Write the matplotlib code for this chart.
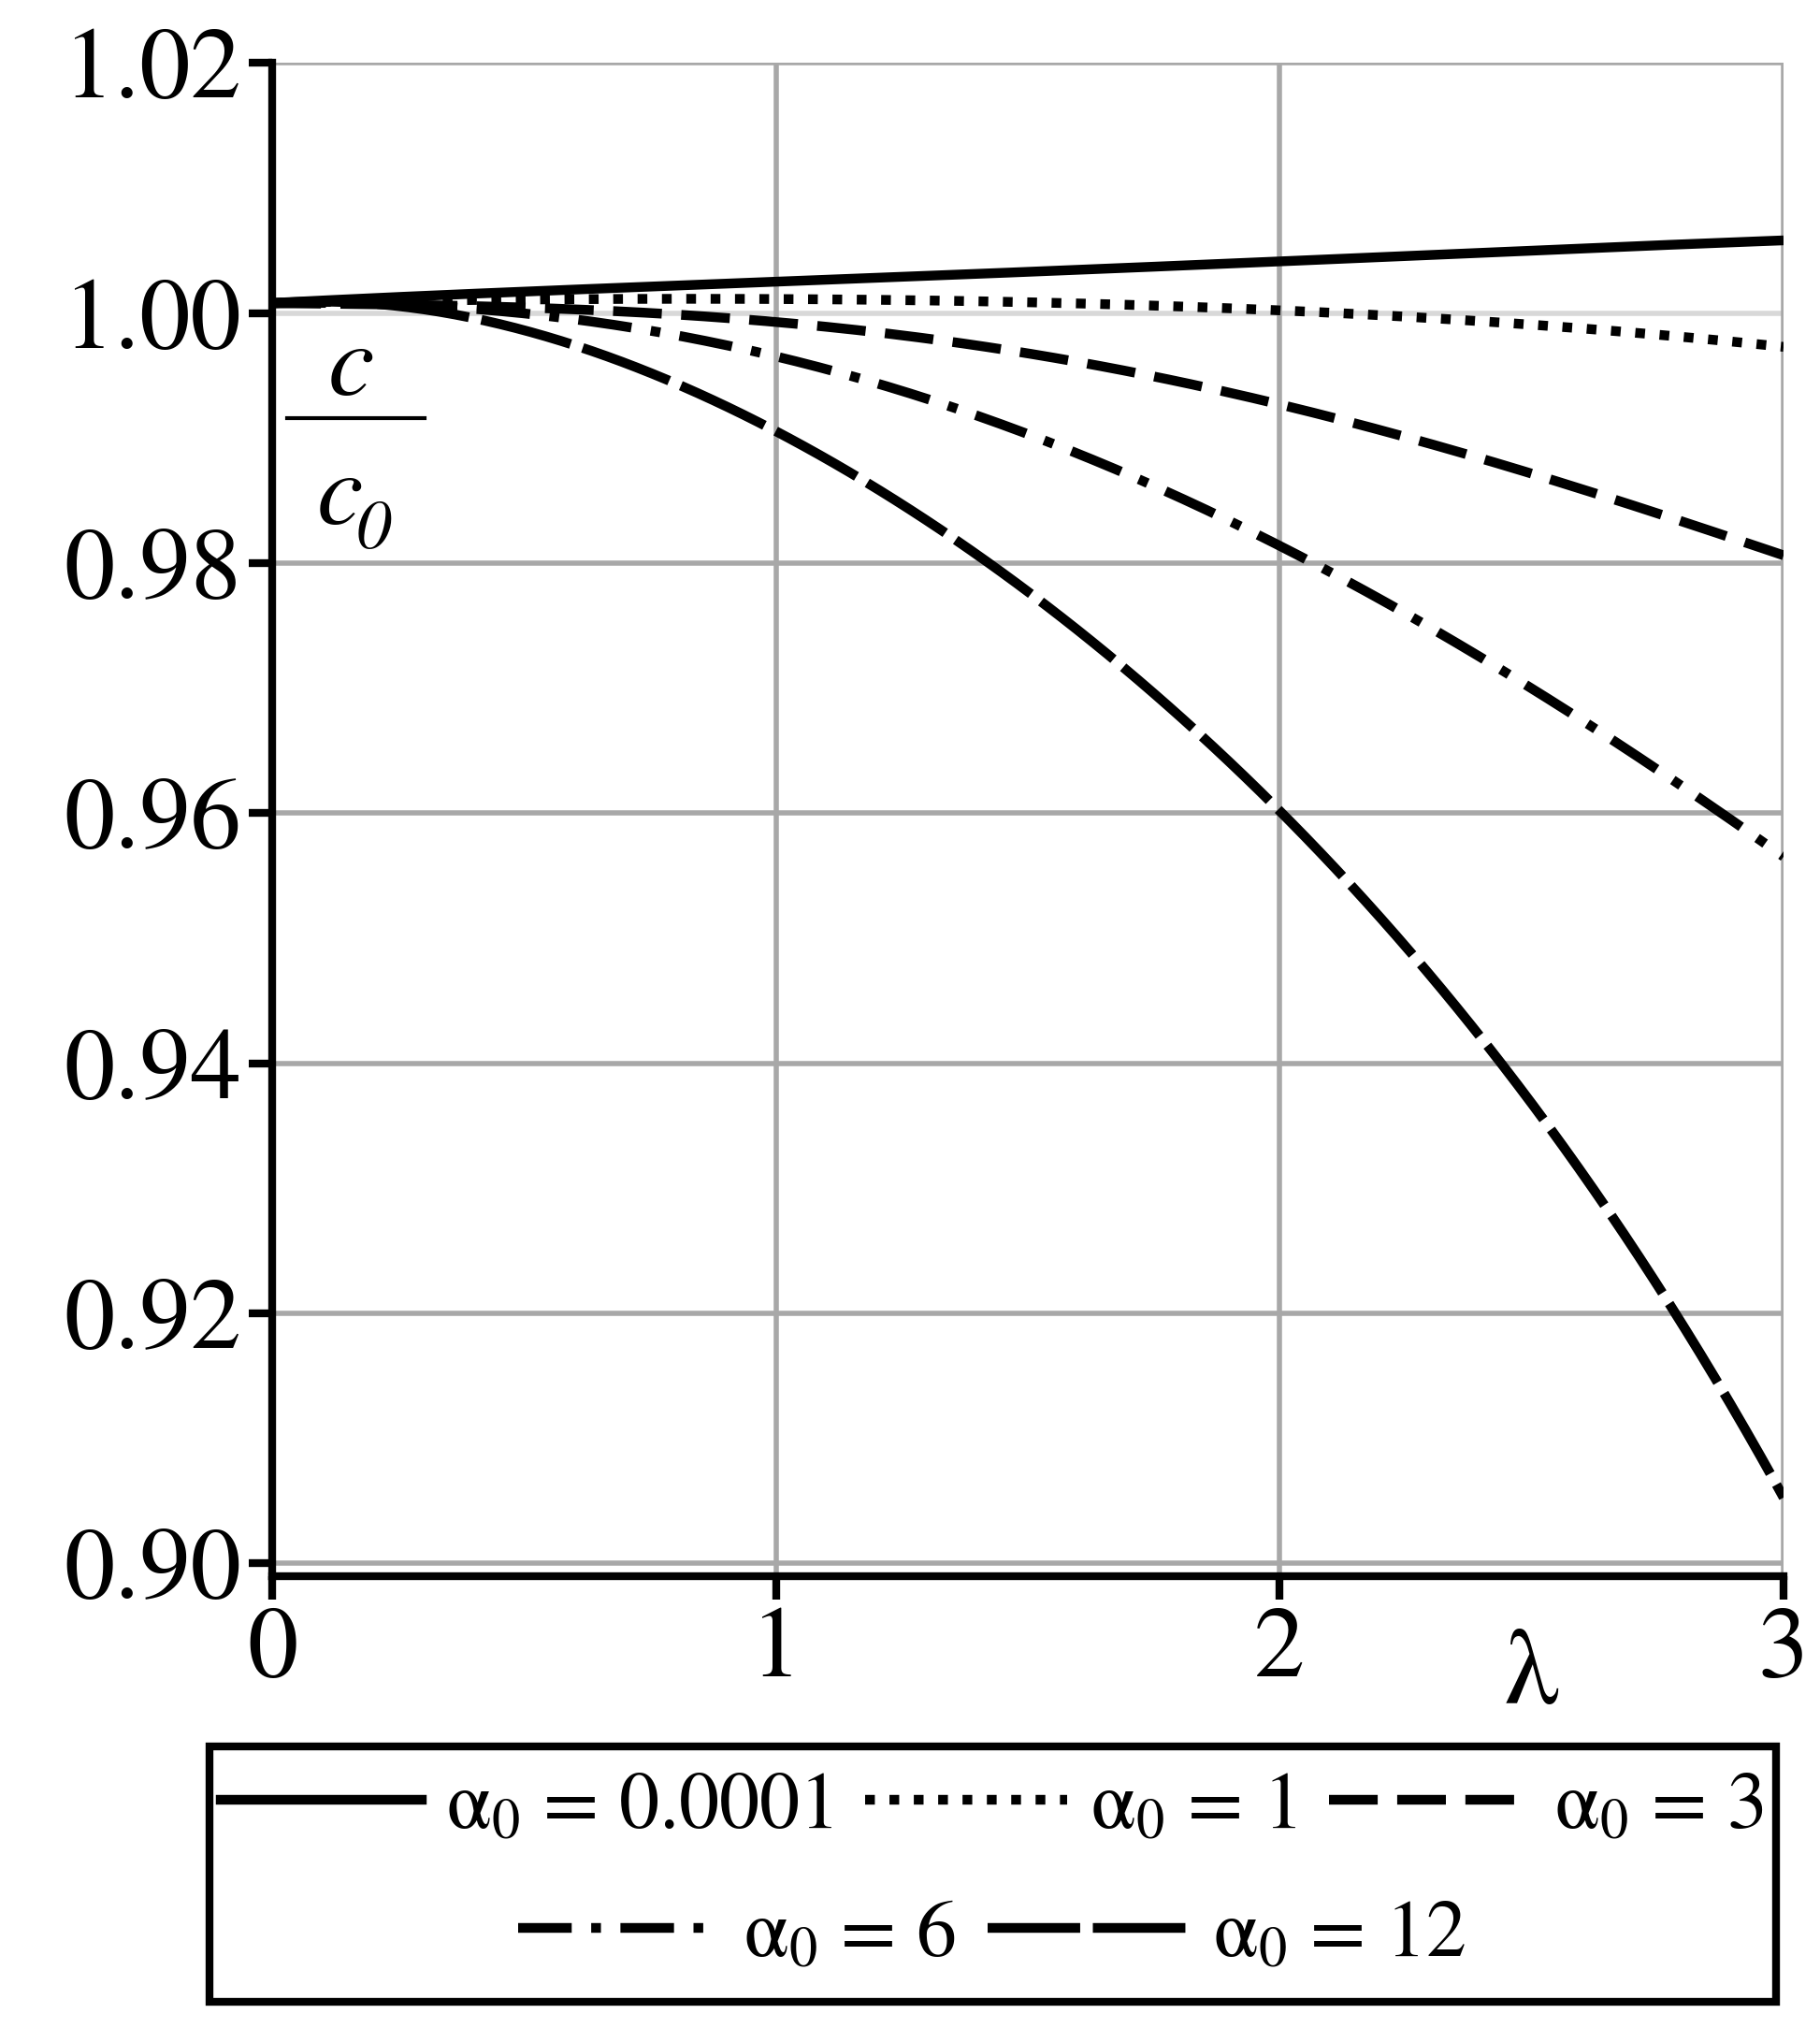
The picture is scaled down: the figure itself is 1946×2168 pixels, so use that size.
import numpy as np
import matplotlib
matplotlib.use('Agg')
import matplotlib.pyplot as plt
from matplotlib.lines import Line2D
from matplotlib.patches import Rectangle

plt.rcParams['font.family'] = ['STIXGeneral', 'DejaVu Serif']
plt.rcParams['mathtext.fontset'] = 'custom'
plt.rcParams['mathtext.rm'] = 'STIXGeneral'
plt.rcParams['mathtext.it'] = 'STIXGeneral:italic'

lam = [0.0, 0.5, 1.0, 1.5, 2.0, 2.5, 3.0]
c_a0001 = [1.0008, 1.0017, 1.0025, 1.0033, 1.0041, 1.0050, 1.0058]
c_a1 = [1.0008, 1.0011, 1.0011, 1.0008, 1.0003, 0.9990, 0.9973]
c_a3 = [1.0008, 1.0004, 0.9993, 0.9968, 0.9926, 0.9872, 0.9806]
c_a6 = [1.0008, 0.9998, 0.9968, 0.9901, 0.9814, 0.9700, 0.9565]
c_a12 = [1.0008, 0.9985, 0.9906, 0.9779, 0.9598, 0.9370, 0.9052]
labels = ['0.0001', '1', '3', '6', '12']
yticks = [0.90, 0.92, 0.94, 0.96, 0.98, 1.00, 1.02]

series = [c_a0001, c_a1, c_a3, c_a6, c_a12]
dashes = [None, (1, 1.5), (5, 2), (5.5, 2, 1, 2), (9.5, 1.3)]

fig = plt.figure(figsize=(19.46, 21.68), dpi=100)
ax = fig.add_axes([0.1496, 0.223, 0.8304, 0.746])

lw = 7.5
xs = np.linspace(0, 3, 200)
handles = []
for vals, d, lab in zip(series, dashes, labels):
    # smooth curve through the read-off points
    coef = np.polyfit(lam, vals, 4)
    ln, = ax.plot(xs, np.polyval(coef, xs), color='black', lw=lw,
                  solid_capstyle='butt', dash_capstyle='butt', zorder=3)
    if d is not None:
        ln.set_dashes(d)
    h = Line2D([], [], color='black', lw=lw, dash_capstyle='butt')
    if d is not None:
        h.set_dashes(d)
    handles.append((h, r'α$_{\mathit{0}}$ = ' + lab))

ax.set_xlim(0, 3)
ax.set_ylim(0.899, 1.02)
ax.set_xticks([0, 1, 2, 3])
ax.set_yticks(yticks)
ax.set_yticklabels(['%.2f' % v for v in yticks])
for v in yticks:
    ax.axhline(v, color='#d8d8d8' if v == 1.0 else '#a8a8a8', lw=4, zorder=1)
for v in [1, 2, 3]:
    ax.axvline(v, color='#a8a8a8', lw=4, zorder=1)

for s in ['top', 'right']:
    ax.spines[s].set_visible(False)
for s in ['left', 'bottom']:
    ax.spines[s].set_linewidth(6)
    ax.spines[s].set_zorder(4)
ax.tick_params(width=6, length=18, labelsize=78, direction='out', pad=6)

ax.text(2.5, -0.035, 'λ', transform=ax.get_xaxis_transform(),
        fontsize=84, ha='center', va='top')

# c / c0 label
ax.text(0.052, 0.797, 'c', transform=ax.transAxes, fontsize=80,
        style='italic', ha='center', va='center')
ax.plot([0.01, 0.101], [0.765, 0.765], transform=ax.transAxes, color='black',
        lw=3, clip_on=False)
ax.text(0.045, 0.712, 'c', transform=ax.transAxes, fontsize=80,
        style='italic', ha='center', va='center')
ax.text(0.067, 0.69, '0', transform=ax.transAxes, fontsize=54,
        style='italic', ha='center', va='center')

fig.patches.append(Rectangle((0.115, 0.013), 0.861, 0.126, transform=fig.transFigure,
                             fill=False, ec='black', lw=6))
kw = dict(frameon=False, fontsize=62, handlelength=2.5, handletextpad=0.3,
          columnspacing=0.4, borderaxespad=0)
fig.legend([h for h, _ in handles[:3]], [t for _, t in handles[:3]],
           ncol=3, loc='center', bbox_to_anchor=(0.545, 0.108), **kw)
fig.legend([h for h, _ in handles[3:]], [t for _, t in handles[3:]],
           ncol=2, loc='center', bbox_to_anchor=(0.545, 0.045), **kw)

fig.savefig('out.png', dpi=100)
